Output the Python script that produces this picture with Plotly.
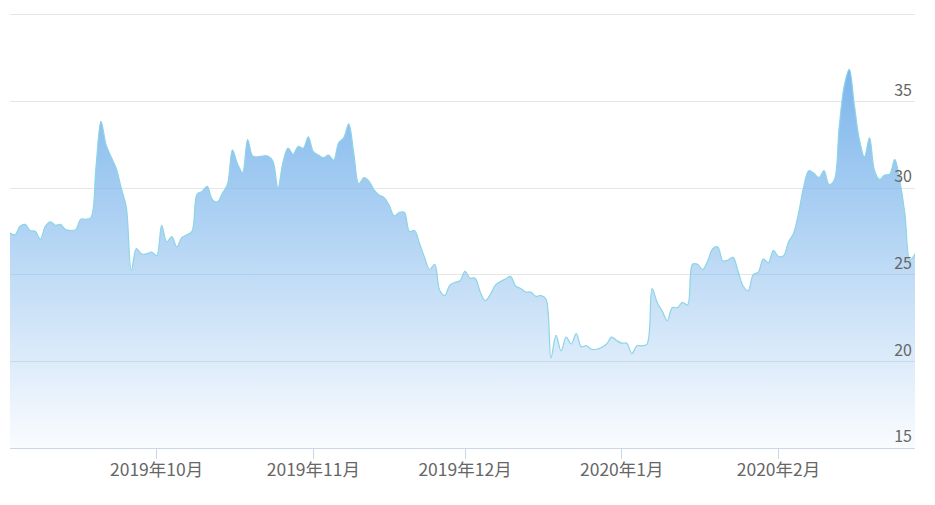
import pandas as pd
import plotly.graph_objects as go

start_date = "2019-09-02"
values = [
    27.4, 27.3, 27.8, 27.9, 27.55, 27.5, 27.05, 27.8, 28.05, 27.85,
    27.9, 27.6, 27.55, 27.6, 28.2, 28.2, 28.3, 31.2, 33.85, 32.5,
    31.8, 31.15, 30.0, 28.9, 25.25, 26.5, 26.2, 26.2, 26.3, 26.1,
    27.85, 26.9, 27.2, 26.6, 27.15, 27.3, 27.5, 29.65, 29.8, 30.1,
    29.35, 29.2, 29.7, 30.2, 32.2, 31.4, 30.9, 32.8, 31.85, 31.8,
    31.85, 31.85, 31.55, 30.0, 31.5, 32.3, 31.95, 32.4, 32.3, 32.95,
    32.1, 31.9, 31.75, 31.9, 31.6, 32.6, 32.9, 33.7, 32.0, 30.25,
    30.6, 30.4, 29.9, 29.6, 29.45, 29.0, 28.4, 28.6, 28.6, 27.5,
    27.55, 26.8, 26.0, 25.3, 25.6, 24.1, 23.8, 24.4, 24.55, 24.65,
    25.2, 24.8, 24.8, 24.0, 23.5, 23.85, 24.4, 24.6, 24.75, 24.9,
    24.35, 24.2, 24.0, 24.0, 23.75, 23.8, 23.6, 20.2, 21.5, 20.6,
    21.4, 21.0, 21.6, 20.85, 20.9, 20.7, 20.7, 20.8, 21.0, 21.4,
    21.2, 21.05, 21.05, 20.45, 20.9, 20.9, 21.0, 24.2, 23.4, 22.9,
    22.35, 23.1, 23.1, 23.4, 23.25, 25.6, 25.6, 25.3, 25.8, 26.5,
    26.6, 25.8, 25.85, 26.0, 25.2, 24.35, 24.07, 25.0, 25.15, 25.9,
    25.7, 26.4, 26.05, 26.1, 26.9, 27.4, 28.6, 30.1, 31.0, 30.85,
    30.6, 31.0, 30.2, 30.45, 33.5, 35.9, 36.85, 34.8, 32.8, 31.8,
    32.9, 31.0, 30.5, 30.75, 30.8, 31.65, 30.4, 28.5, 25.85, 26.2,
]
dates = pd.date_range(start_date, periods=len(values), freq="D")

y_min, y_max, y_step = 15, 40, 5

fig = go.Figure()
fig.add_trace(go.Scatter(
    x=dates, y=values,
    mode="lines",
    line=dict(color="#8dd4e6", width=1.2, shape="spline", smoothing=1.0),
    fill="tozeroy",
    fillgradient=dict(
        type="vertical",
        start=y_min, stop=max(values),
        colorscale=[[0, "rgba(124,181,236,0.04)"], [1, "rgba(124,181,236,1)"]],
    ),
    hoverinfo="skip",
    showlegend=False,
))

# page body has an 8px default margin, so the figure is offset by 8px
fig.update_layout(
    width=919, height=489,
    margin=dict(l=2, r=12, t=5, b=49),
    paper_bgcolor="white", plot_bgcolor="white",
    font=dict(family="Noto Sans CJK SC, Noto Sans, sans-serif", color="#666666"),
    xaxis=dict(
        range=[dates[0], dates[-1]],
        dtick="M1", tick0="2019-09-01",
        tickformat="%Y年%-m月",
        showgrid=False, zeroline=False,
        showline=True, linecolor="#ccd6eb", linewidth=1,
        ticks="outside", ticklen=10, tickcolor="#ccd6eb", tickwidth=1,
        tickfont=dict(size=17.5, color="#666666"),
        ticklabelstandoff=-4,
    ),
    yaxis=dict(
        range=[y_min, y_max + 0.1], tickvals=list(range(y_min, y_max + 1, y_step)),
        side="right", ticklabelposition="inside top",
        showgrid=True, gridcolor="#e6e6e6", gridwidth=1,
        zeroline=False, showline=False, ticks="",
        tickfont=dict(size=16, color="#666666"),
    ),
)

fig.write_html("out.html")
